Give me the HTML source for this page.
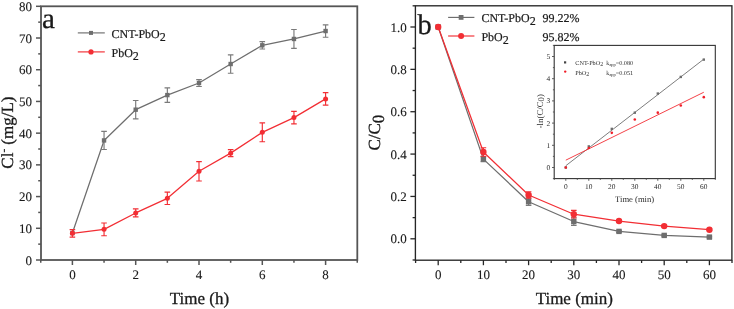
<!DOCTYPE html>
<html><head><meta charset="utf-8"><style>
html,body{margin:0;padding:0;background:#fff;}
body{width:734px;height:309px;overflow:hidden;}
svg{will-change:transform;}
svg{display:block;font-family:"Liberation Serif", serif;fill:#111;text-rendering:geometricPrecision;}
text{fill:#1a1a1a;stroke:#1a1a1a;stroke-width:0.3px;}
text.in{fill:#2a2a2a;stroke:none;}
text.tk{stroke-width:0.12px;}
text.lg{stroke-width:0.2px;}
</style></head><body>
<svg width="734" height="309" viewBox="0 0 734 309">
<rect x="41.0" y="6.3" width="316.3" height="253.7" fill="none" stroke="#555555" stroke-width="1.8"/>
<line x1="40.75" y1="260.0" x2="40.75" y2="262.8" stroke="#555555" stroke-width="1.5"/>
<line x1="72.40" y1="260.0" x2="72.40" y2="265.0" stroke="#555555" stroke-width="1.5"/>
<text x="72.40" y="279" class="tk" font-size="13" text-anchor="middle">0</text>
<line x1="104.05" y1="260.0" x2="104.05" y2="262.8" stroke="#555555" stroke-width="1.5"/>
<line x1="135.70" y1="260.0" x2="135.70" y2="265.0" stroke="#555555" stroke-width="1.5"/>
<text x="135.70" y="279" class="tk" font-size="13" text-anchor="middle">2</text>
<line x1="167.35" y1="260.0" x2="167.35" y2="262.8" stroke="#555555" stroke-width="1.5"/>
<line x1="199.00" y1="260.0" x2="199.00" y2="265.0" stroke="#555555" stroke-width="1.5"/>
<text x="199.00" y="279" class="tk" font-size="13" text-anchor="middle">4</text>
<line x1="230.65" y1="260.0" x2="230.65" y2="262.8" stroke="#555555" stroke-width="1.5"/>
<line x1="262.30" y1="260.0" x2="262.30" y2="265.0" stroke="#555555" stroke-width="1.5"/>
<text x="262.30" y="279" class="tk" font-size="13" text-anchor="middle">6</text>
<line x1="293.95" y1="260.0" x2="293.95" y2="262.8" stroke="#555555" stroke-width="1.5"/>
<line x1="325.60" y1="260.0" x2="325.60" y2="265.0" stroke="#555555" stroke-width="1.5"/>
<text x="325.60" y="279" class="tk" font-size="13" text-anchor="middle">8</text>
<line x1="357.25" y1="260.0" x2="357.25" y2="262.8" stroke="#555555" stroke-width="1.5"/>
<line x1="36.0" y1="260.00" x2="41.0" y2="260.00" stroke="#555555" stroke-width="1.5"/>
<text x="32" y="264.50" class="tk" font-size="13" text-anchor="end">0</text>
<line x1="38.2" y1="244.14" x2="41.0" y2="244.14" stroke="#555555" stroke-width="1.5"/>
<line x1="36.0" y1="228.29" x2="41.0" y2="228.29" stroke="#555555" stroke-width="1.5"/>
<text x="32" y="232.79" class="tk" font-size="13" text-anchor="end">10</text>
<line x1="38.2" y1="212.43" x2="41.0" y2="212.43" stroke="#555555" stroke-width="1.5"/>
<line x1="36.0" y1="196.57" x2="41.0" y2="196.57" stroke="#555555" stroke-width="1.5"/>
<text x="32" y="201.07" class="tk" font-size="13" text-anchor="end">20</text>
<line x1="38.2" y1="180.72" x2="41.0" y2="180.72" stroke="#555555" stroke-width="1.5"/>
<line x1="36.0" y1="164.86" x2="41.0" y2="164.86" stroke="#555555" stroke-width="1.5"/>
<text x="32" y="169.36" class="tk" font-size="13" text-anchor="end">30</text>
<line x1="38.2" y1="149.00" x2="41.0" y2="149.00" stroke="#555555" stroke-width="1.5"/>
<line x1="36.0" y1="133.15" x2="41.0" y2="133.15" stroke="#555555" stroke-width="1.5"/>
<text x="32" y="137.65" class="tk" font-size="13" text-anchor="end">40</text>
<line x1="38.2" y1="117.29" x2="41.0" y2="117.29" stroke="#555555" stroke-width="1.5"/>
<line x1="36.0" y1="101.44" x2="41.0" y2="101.44" stroke="#555555" stroke-width="1.5"/>
<text x="32" y="105.94" class="tk" font-size="13" text-anchor="end">50</text>
<line x1="38.2" y1="85.58" x2="41.0" y2="85.58" stroke="#555555" stroke-width="1.5"/>
<line x1="36.0" y1="69.72" x2="41.0" y2="69.72" stroke="#555555" stroke-width="1.5"/>
<text x="32" y="74.22" class="tk" font-size="13" text-anchor="end">60</text>
<line x1="38.2" y1="53.87" x2="41.0" y2="53.87" stroke="#555555" stroke-width="1.5"/>
<line x1="36.0" y1="38.01" x2="41.0" y2="38.01" stroke="#555555" stroke-width="1.5"/>
<text x="32" y="42.51" class="tk" font-size="13" text-anchor="end">70</text>
<line x1="38.2" y1="22.15" x2="41.0" y2="22.15" stroke="#555555" stroke-width="1.5"/>
<line x1="36.0" y1="6.30" x2="41.0" y2="6.30" stroke="#555555" stroke-width="1.5"/>
<text x="32" y="10.80" class="tk" font-size="13" text-anchor="end">80</text>
<polyline points="72.40,233.04 104.05,140.44 135.70,109.68 167.35,95.09 199.00,83.04 230.65,64.01 262.30,45.30 293.95,38.96 325.60,31.03" fill="none" stroke="#6e6e6e" stroke-width="1.25" stroke-linejoin="round"/>
<path d="M104.05 131.40V149.48M101.25 131.40H106.85M101.25 149.48H106.85" stroke="#7a7a7a" stroke-width="1.15" fill="none"/>
<path d="M135.70 100.48V118.88M132.90 100.48H138.50M132.90 118.88H138.50" stroke="#7a7a7a" stroke-width="1.15" fill="none"/>
<path d="M167.35 87.80V102.39M164.55 87.80H170.15M164.55 102.39H170.15" stroke="#7a7a7a" stroke-width="1.15" fill="none"/>
<path d="M199.00 79.55V86.53M196.20 79.55H201.80M196.20 86.53H201.80" stroke="#7a7a7a" stroke-width="1.15" fill="none"/>
<path d="M230.65 54.82V73.21M227.85 54.82H233.45M227.85 73.21H233.45" stroke="#7a7a7a" stroke-width="1.15" fill="none"/>
<path d="M262.30 41.59V49.01M259.50 41.59H265.10M259.50 49.01H265.10" stroke="#7a7a7a" stroke-width="1.15" fill="none"/>
<path d="M293.95 29.54V48.38M291.15 29.54H296.75M291.15 48.38H296.75" stroke="#7a7a7a" stroke-width="1.15" fill="none"/>
<path d="M325.60 24.82V37.25M322.80 24.82H328.40M322.80 37.25H328.40" stroke="#7a7a7a" stroke-width="1.15" fill="none"/>
<rect x="70.20" y="230.84" width="4.4" height="4.4" fill="#6e6e6e"/>
<rect x="101.85" y="138.24" width="4.4" height="4.4" fill="#6e6e6e"/>
<rect x="133.50" y="107.48" width="4.4" height="4.4" fill="#6e6e6e"/>
<rect x="165.15" y="92.89" width="4.4" height="4.4" fill="#6e6e6e"/>
<rect x="196.80" y="80.84" width="4.4" height="4.4" fill="#6e6e6e"/>
<rect x="228.45" y="61.81" width="4.4" height="4.4" fill="#6e6e6e"/>
<rect x="260.10" y="43.10" width="4.4" height="4.4" fill="#6e6e6e"/>
<rect x="291.75" y="36.76" width="4.4" height="4.4" fill="#6e6e6e"/>
<rect x="323.40" y="28.83" width="4.4" height="4.4" fill="#6e6e6e"/>
<polyline points="72.40,233.36 104.05,229.37 135.70,212.94 167.35,198.32 199.00,171.30 230.65,153.13 262.30,132.36 293.95,117.61 325.60,98.90" fill="none" stroke="#f22e34" stroke-width="1.25" stroke-linejoin="round"/>
<path d="M72.40 229.56V237.17M69.60 229.56H75.20M69.60 237.17H75.20" stroke="#f22e34" stroke-width="1.15" fill="none"/>
<path d="M104.05 223.02V235.71M101.25 223.02H106.85M101.25 235.71H106.85" stroke="#f22e34" stroke-width="1.15" fill="none"/>
<path d="M135.70 208.94V216.93M132.90 208.94H138.50M132.90 216.93H138.50" stroke="#f22e34" stroke-width="1.15" fill="none"/>
<path d="M167.35 192.10V204.53M164.55 192.10H170.15M164.55 204.53H170.15" stroke="#f22e34" stroke-width="1.15" fill="none"/>
<path d="M199.00 161.59V181.00M196.20 161.59H201.80M196.20 181.00H201.80" stroke="#f22e34" stroke-width="1.15" fill="none"/>
<path d="M230.65 149.64V156.62M227.85 149.64H233.45M227.85 156.62H233.45" stroke="#f22e34" stroke-width="1.15" fill="none"/>
<path d="M262.30 122.94V141.77M259.50 122.94H265.10M259.50 141.77H265.10" stroke="#f22e34" stroke-width="1.15" fill="none"/>
<path d="M293.95 111.36V123.86M291.15 111.36H296.75M291.15 123.86H296.75" stroke="#f22e34" stroke-width="1.15" fill="none"/>
<path d="M325.60 92.65V105.15M322.80 92.65H328.40M322.80 105.15H328.40" stroke="#f22e34" stroke-width="1.15" fill="none"/>
<circle cx="72.40" cy="233.36" r="2.5" fill="#f22e34"/>
<circle cx="104.05" cy="229.37" r="2.5" fill="#f22e34"/>
<circle cx="135.70" cy="212.94" r="2.5" fill="#f22e34"/>
<circle cx="167.35" cy="198.32" r="2.5" fill="#f22e34"/>
<circle cx="199.00" cy="171.30" r="2.5" fill="#f22e34"/>
<circle cx="230.65" cy="153.13" r="2.5" fill="#f22e34"/>
<circle cx="262.30" cy="132.36" r="2.5" fill="#f22e34"/>
<circle cx="293.95" cy="117.61" r="2.5" fill="#f22e34"/>
<circle cx="325.60" cy="98.90" r="2.5" fill="#f22e34"/>
<line x1="77.8" y1="32.9" x2="104.8" y2="32.9" stroke="#6e6e6e" stroke-width="1.15"/>
<rect x="89" y="30.9" width="4" height="4" fill="#6e6e6e"/>
<line x1="77.8" y1="51.9" x2="104.8" y2="51.9" stroke="#f22e34" stroke-width="1.15"/>
<circle cx="91" cy="51.9" r="2.6" fill="#f22e34"/>
<text x="111.5" y="37.8" class="lg" font-size="12">CNT-PbO<tspan dy="2.8">2</tspan></text>
<text x="111.5" y="56.9" class="lg" font-size="12">PbO<tspan dy="2.8">2</tspan></text>
<text x="42" y="27.6" font-size="29">a</text>
<text x="199.5" y="303.8" font-size="17" text-anchor="middle">Time (h)</text>
<text transform="translate(13.2,132.6) rotate(-90)" font-size="17" text-anchor="middle">Cl<tspan font-size="11" dy="-6">-</tspan><tspan dy="6"> (mg/L)</tspan></text>
<rect x="415.4" y="5.8" width="316.5" height="254.39999999999998" fill="none" stroke="#262626" stroke-width="1.35"/>
<line x1="415.60" y1="260.2" x2="415.60" y2="263.0" stroke="#262626" stroke-width="1.3"/>
<line x1="438.20" y1="260.2" x2="438.20" y2="265.2" stroke="#262626" stroke-width="1.3"/>
<text x="438.20" y="279" class="tk" font-size="13" text-anchor="middle">0</text>
<line x1="460.80" y1="260.2" x2="460.80" y2="263.0" stroke="#262626" stroke-width="1.3"/>
<line x1="483.40" y1="260.2" x2="483.40" y2="265.2" stroke="#262626" stroke-width="1.3"/>
<text x="483.40" y="279" class="tk" font-size="13" text-anchor="middle">10</text>
<line x1="506.00" y1="260.2" x2="506.00" y2="263.0" stroke="#262626" stroke-width="1.3"/>
<line x1="528.60" y1="260.2" x2="528.60" y2="265.2" stroke="#262626" stroke-width="1.3"/>
<text x="528.60" y="279" class="tk" font-size="13" text-anchor="middle">20</text>
<line x1="551.20" y1="260.2" x2="551.20" y2="263.0" stroke="#262626" stroke-width="1.3"/>
<line x1="573.80" y1="260.2" x2="573.80" y2="265.2" stroke="#262626" stroke-width="1.3"/>
<text x="573.80" y="279" class="tk" font-size="13" text-anchor="middle">30</text>
<line x1="596.40" y1="260.2" x2="596.40" y2="263.0" stroke="#262626" stroke-width="1.3"/>
<line x1="619.00" y1="260.2" x2="619.00" y2="265.2" stroke="#262626" stroke-width="1.3"/>
<text x="619.00" y="279" class="tk" font-size="13" text-anchor="middle">40</text>
<line x1="641.60" y1="260.2" x2="641.60" y2="263.0" stroke="#262626" stroke-width="1.3"/>
<line x1="664.20" y1="260.2" x2="664.20" y2="265.2" stroke="#262626" stroke-width="1.3"/>
<text x="664.20" y="279" class="tk" font-size="13" text-anchor="middle">50</text>
<line x1="686.80" y1="260.2" x2="686.80" y2="263.0" stroke="#262626" stroke-width="1.3"/>
<line x1="709.40" y1="260.2" x2="709.40" y2="265.2" stroke="#262626" stroke-width="1.3"/>
<text x="709.40" y="279" class="tk" font-size="13" text-anchor="middle">60</text>
<line x1="732.00" y1="260.2" x2="732.00" y2="263.0" stroke="#262626" stroke-width="1.3"/>
<line x1="412.59999999999997" y1="259.98" x2="415.4" y2="259.98" stroke="#262626" stroke-width="1.3"/>
<line x1="410.4" y1="238.80" x2="415.4" y2="238.80" stroke="#262626" stroke-width="1.3"/>
<text x="406.8" y="243.30" class="tk" font-size="13" text-anchor="end">0.0</text>
<line x1="412.59999999999997" y1="217.62" x2="415.4" y2="217.62" stroke="#262626" stroke-width="1.3"/>
<line x1="410.4" y1="196.44" x2="415.4" y2="196.44" stroke="#262626" stroke-width="1.3"/>
<text x="406.8" y="200.94" class="tk" font-size="13" text-anchor="end">0.2</text>
<line x1="412.59999999999997" y1="175.26" x2="415.4" y2="175.26" stroke="#262626" stroke-width="1.3"/>
<line x1="410.4" y1="154.08" x2="415.4" y2="154.08" stroke="#262626" stroke-width="1.3"/>
<text x="406.8" y="158.58" class="tk" font-size="13" text-anchor="end">0.4</text>
<line x1="412.59999999999997" y1="132.90" x2="415.4" y2="132.90" stroke="#262626" stroke-width="1.3"/>
<line x1="410.4" y1="111.72" x2="415.4" y2="111.72" stroke="#262626" stroke-width="1.3"/>
<text x="406.8" y="116.22" class="tk" font-size="13" text-anchor="end">0.6</text>
<line x1="412.59999999999997" y1="90.54" x2="415.4" y2="90.54" stroke="#262626" stroke-width="1.3"/>
<line x1="410.4" y1="69.36" x2="415.4" y2="69.36" stroke="#262626" stroke-width="1.3"/>
<text x="406.8" y="73.86" class="tk" font-size="13" text-anchor="end">0.8</text>
<line x1="412.59999999999997" y1="48.18" x2="415.4" y2="48.18" stroke="#262626" stroke-width="1.3"/>
<line x1="410.4" y1="27.00" x2="415.4" y2="27.00" stroke="#262626" stroke-width="1.3"/>
<text x="406.8" y="31.50" class="tk" font-size="13" text-anchor="end">1.0</text>
<line x1="412.59999999999997" y1="5.82" x2="415.4" y2="5.82" stroke="#262626" stroke-width="1.3"/>
<polyline points="438.20,27.00 483.40,159.16 528.60,201.74 573.80,221.54 619.00,231.39 664.20,235.41 709.40,237.11" fill="none" stroke="#6e6e6e" stroke-width="1.25" stroke-linejoin="round"/>
<path d="M483.40 156.62V161.70M480.60 156.62H486.20M480.60 161.70H486.20" stroke="#7a7a7a" stroke-width="1.15" fill="none"/>
<path d="M528.60 198.13V205.34M525.80 198.13H531.40M525.80 205.34H531.40" stroke="#7a7a7a" stroke-width="1.15" fill="none"/>
<path d="M573.80 217.73V225.35M571.00 217.73H576.60M571.00 225.35H576.60" stroke="#7a7a7a" stroke-width="1.15" fill="none"/>
<path d="M619.00 230.33V232.45M616.20 230.33H621.80M616.20 232.45H621.80" stroke="#7a7a7a" stroke-width="1.15" fill="none"/>
<path d="M664.20 234.56V236.26M661.40 234.56H667.00M661.40 236.26H667.00" stroke="#7a7a7a" stroke-width="1.15" fill="none"/>
<path d="M709.40 236.26V237.95M706.60 236.26H712.20M706.60 237.95H712.20" stroke="#7a7a7a" stroke-width="1.15" fill="none"/>
<rect x="435.50" y="24.30" width="5.4" height="5.4" fill="#6e6e6e"/>
<rect x="480.70" y="156.46" width="5.4" height="5.4" fill="#6e6e6e"/>
<rect x="525.90" y="199.04" width="5.4" height="5.4" fill="#6e6e6e"/>
<rect x="571.10" y="218.84" width="5.4" height="5.4" fill="#6e6e6e"/>
<rect x="616.30" y="228.69" width="5.4" height="5.4" fill="#6e6e6e"/>
<rect x="661.50" y="232.71" width="5.4" height="5.4" fill="#6e6e6e"/>
<rect x="706.70" y="234.41" width="5.4" height="5.4" fill="#6e6e6e"/>
<polyline points="438.20,27.00 483.40,151.96 528.60,194.96 573.80,214.23 619.00,221.01 664.20,226.09 709.40,229.69" fill="none" stroke="#f22e34" stroke-width="1.25" stroke-linejoin="round"/>
<path d="M483.40 147.73V156.20M480.60 147.73H486.20M480.60 156.20H486.20" stroke="#f22e34" stroke-width="1.15" fill="none"/>
<path d="M528.60 191.78V198.13M525.80 191.78H531.40M525.80 198.13H531.40" stroke="#f22e34" stroke-width="1.15" fill="none"/>
<path d="M573.80 210.42V218.04M571.00 210.42H576.60M571.00 218.04H576.60" stroke="#f22e34" stroke-width="1.15" fill="none"/>
<path d="M619.00 219.95V222.07M616.20 219.95H621.80M616.20 222.07H621.80" stroke="#f22e34" stroke-width="1.15" fill="none"/>
<path d="M664.20 225.24V226.94M661.40 225.24H667.00M661.40 226.94H667.00" stroke="#f22e34" stroke-width="1.15" fill="none"/>
<path d="M709.40 228.85V230.54M706.60 228.85H712.20M706.60 230.54H712.20" stroke="#f22e34" stroke-width="1.15" fill="none"/>
<circle cx="438.20" cy="27.00" r="3.2" fill="#f22e34"/>
<circle cx="483.40" cy="151.96" r="3.2" fill="#f22e34"/>
<circle cx="528.60" cy="194.96" r="3.2" fill="#f22e34"/>
<circle cx="573.80" cy="214.23" r="3.2" fill="#f22e34"/>
<circle cx="619.00" cy="221.01" r="3.2" fill="#f22e34"/>
<circle cx="664.20" cy="226.09" r="3.2" fill="#f22e34"/>
<circle cx="709.40" cy="229.69" r="3.2" fill="#f22e34"/>
<line x1="448.1" y1="17.4" x2="474.4" y2="17.4" stroke="#6e6e6e" stroke-width="1.15"/>
<rect x="458.7" y="15.0" width="4.8" height="4.8" fill="#6e6e6e"/>
<line x1="448.1" y1="36" x2="474.4" y2="36" stroke="#f22e34" stroke-width="1.15"/>
<circle cx="461.1" cy="36" r="3" fill="#f22e34"/>
<text x="481.4" y="22.4" class="lg" font-size="12">CNT-PbO<tspan dy="2.8">2</tspan></text>
<text x="481.4" y="41" class="lg" font-size="12">PbO<tspan dy="2.8">2</tspan></text>
<text x="542.5" y="22.4" class="lg" font-size="12">99.22%</text>
<text x="542.5" y="41" class="lg" font-size="12">95.82%</text>
<text x="417.6" y="33.6" font-size="28.5">b</text>
<text x="574.3" y="304.2" font-size="17" text-anchor="middle">Time (min)</text>
<text transform="translate(380.4,132.6) rotate(-90)" font-size="17" text-anchor="middle">C/C<tspan dy="3.6">0</tspan></text>
<rect x="554.2" y="45.4" width="161.0999999999999" height="133.2" fill="#fff" stroke="#333" stroke-width="1.1"/>
<line x1="554.30" y1="178.6" x2="554.30" y2="179.9" stroke="#4d4d4d" stroke-width="0.9"/>
<line x1="565.80" y1="178.6" x2="565.80" y2="180.79999999999998" stroke="#4d4d4d" stroke-width="0.9"/>
<text class="in" x="565.80" y="189.2" font-size="7.4" text-anchor="middle">0</text>
<line x1="577.30" y1="178.6" x2="577.30" y2="179.9" stroke="#4d4d4d" stroke-width="0.9"/>
<line x1="588.80" y1="178.6" x2="588.80" y2="180.79999999999998" stroke="#4d4d4d" stroke-width="0.9"/>
<text class="in" x="588.80" y="189.2" font-size="7.4" text-anchor="middle">10</text>
<line x1="600.30" y1="178.6" x2="600.30" y2="179.9" stroke="#4d4d4d" stroke-width="0.9"/>
<line x1="611.80" y1="178.6" x2="611.80" y2="180.79999999999998" stroke="#4d4d4d" stroke-width="0.9"/>
<text class="in" x="611.80" y="189.2" font-size="7.4" text-anchor="middle">20</text>
<line x1="623.30" y1="178.6" x2="623.30" y2="179.9" stroke="#4d4d4d" stroke-width="0.9"/>
<line x1="634.80" y1="178.6" x2="634.80" y2="180.79999999999998" stroke="#4d4d4d" stroke-width="0.9"/>
<text class="in" x="634.80" y="189.2" font-size="7.4" text-anchor="middle">30</text>
<line x1="646.30" y1="178.6" x2="646.30" y2="179.9" stroke="#4d4d4d" stroke-width="0.9"/>
<line x1="657.80" y1="178.6" x2="657.80" y2="180.79999999999998" stroke="#4d4d4d" stroke-width="0.9"/>
<text class="in" x="657.80" y="189.2" font-size="7.4" text-anchor="middle">40</text>
<line x1="669.30" y1="178.6" x2="669.30" y2="179.9" stroke="#4d4d4d" stroke-width="0.9"/>
<line x1="680.80" y1="178.6" x2="680.80" y2="180.79999999999998" stroke="#4d4d4d" stroke-width="0.9"/>
<text class="in" x="680.80" y="189.2" font-size="7.4" text-anchor="middle">50</text>
<line x1="692.30" y1="178.6" x2="692.30" y2="179.9" stroke="#4d4d4d" stroke-width="0.9"/>
<line x1="703.80" y1="178.6" x2="703.80" y2="180.79999999999998" stroke="#4d4d4d" stroke-width="0.9"/>
<text class="in" x="703.80" y="189.2" font-size="7.4" text-anchor="middle">60</text>
<line x1="715.30" y1="178.6" x2="715.30" y2="179.9" stroke="#4d4d4d" stroke-width="0.9"/>
<line x1="552.9000000000001" y1="178.60" x2="554.2" y2="178.60" stroke="#4d4d4d" stroke-width="0.9"/>
<line x1="552.0" y1="167.50" x2="554.2" y2="167.50" stroke="#4d4d4d" stroke-width="0.9"/>
<text class="in" x="550.2" y="170.00" font-size="7.4" text-anchor="end">0</text>
<line x1="552.9000000000001" y1="156.40" x2="554.2" y2="156.40" stroke="#4d4d4d" stroke-width="0.9"/>
<line x1="552.0" y1="145.30" x2="554.2" y2="145.30" stroke="#4d4d4d" stroke-width="0.9"/>
<text class="in" x="550.2" y="147.80" font-size="7.4" text-anchor="end">1</text>
<line x1="552.9000000000001" y1="134.20" x2="554.2" y2="134.20" stroke="#4d4d4d" stroke-width="0.9"/>
<line x1="552.0" y1="123.10" x2="554.2" y2="123.10" stroke="#4d4d4d" stroke-width="0.9"/>
<text class="in" x="550.2" y="125.60" font-size="7.4" text-anchor="end">2</text>
<line x1="552.9000000000001" y1="112.00" x2="554.2" y2="112.00" stroke="#4d4d4d" stroke-width="0.9"/>
<line x1="552.0" y1="100.90" x2="554.2" y2="100.90" stroke="#4d4d4d" stroke-width="0.9"/>
<text class="in" x="550.2" y="103.40" font-size="7.4" text-anchor="end">3</text>
<line x1="552.9000000000001" y1="89.80" x2="554.2" y2="89.80" stroke="#4d4d4d" stroke-width="0.9"/>
<line x1="552.0" y1="78.70" x2="554.2" y2="78.70" stroke="#4d4d4d" stroke-width="0.9"/>
<text class="in" x="550.2" y="81.20" font-size="7.4" text-anchor="end">4</text>
<line x1="552.9000000000001" y1="67.60" x2="554.2" y2="67.60" stroke="#4d4d4d" stroke-width="0.9"/>
<line x1="552.0" y1="56.50" x2="554.2" y2="56.50" stroke="#4d4d4d" stroke-width="0.9"/>
<text class="in" x="550.2" y="59.00" font-size="7.4" text-anchor="end">5</text>
<line x1="552.9000000000001" y1="45.40" x2="554.2" y2="45.40" stroke="#4d4d4d" stroke-width="0.9"/>
<line x1="565.80" y1="165.72" x2="703.80" y2="59.16" stroke="#6e6e6e" stroke-width="0.9"/>
<line x1="565.80" y1="160.17" x2="703.80" y2="92.24" stroke="#f22e34" stroke-width="0.9"/>
<rect x="564.60" y="166.30" width="2.4" height="2.4" fill="#6e6e6e"/>
<rect x="587.60" y="145.21" width="2.4" height="2.4" fill="#6e6e6e"/>
<rect x="610.60" y="127.67" width="2.4" height="2.4" fill="#6e6e6e"/>
<rect x="633.60" y="111.47" width="2.4" height="2.4" fill="#6e6e6e"/>
<rect x="656.60" y="92.37" width="2.4" height="2.4" fill="#6e6e6e"/>
<rect x="679.60" y="75.72" width="2.4" height="2.4" fill="#6e6e6e"/>
<rect x="702.60" y="58.41" width="2.4" height="2.4" fill="#6e6e6e"/>
<circle cx="565.80" cy="167.50" r="1.3" fill="#f01e28"/>
<circle cx="588.80" cy="147.96" r="1.3" fill="#f01e28"/>
<circle cx="611.80" cy="132.87" r="1.3" fill="#f01e28"/>
<circle cx="634.80" cy="119.55" r="1.3" fill="#f01e28"/>
<circle cx="657.80" cy="112.67" r="1.3" fill="#f01e28"/>
<circle cx="680.80" cy="105.56" r="1.3" fill="#f01e28"/>
<circle cx="703.80" cy="97.13" r="1.3" fill="#f01e28"/>
<rect x="564" y="61.3" width="2.2" height="2.2" fill="#444"/>
<circle cx="565.2" cy="71.6" r="1.2" fill="#f01e28"/>
<text class="in" x="575.3" y="64.7" font-size="6.2">CNT-PbO<tspan dy="1.5">2</tspan></text>
<text class="in" x="575.3" y="74.8" font-size="6.2">PbO<tspan dy="1.5">2</tspan></text>
<text class="in" x="606.3" y="64.7" font-size="6.2">k<tspan font-size="4.4" dy="1.5">app</tspan><tspan dy="-1.5">=0.080</tspan></text>
<text class="in" x="606.3" y="74.8" font-size="6.2">k<tspan font-size="4.4" dy="1.5">app</tspan><tspan dy="-1.5">=0.051</tspan></text>
<text class="in" x="634.6" y="202.3" font-size="8.6" text-anchor="middle">Time (min)</text>
<text class="in" transform="translate(542.6,111.2) rotate(-90)" font-size="8.8" text-anchor="middle">-ln(C/C<tspan dy="1.5">0</tspan><tspan dy="-1.5">)</tspan></text>
</svg>
</body></html>
